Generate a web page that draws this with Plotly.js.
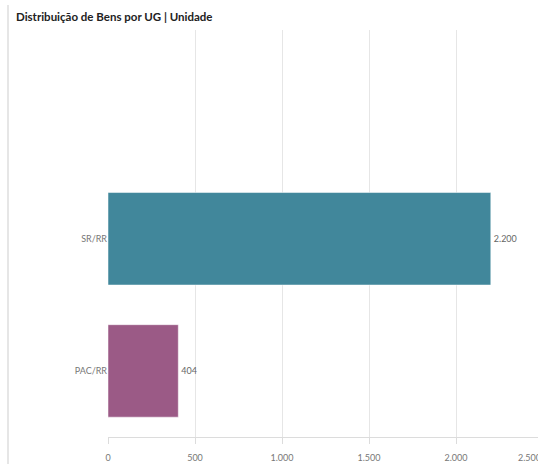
<!DOCTYPE html>
<html><head><meta charset="utf-8">
<script src="https://cdn.plot.ly/plotly-3.0.1.min.js"></script>
<style>html,body{margin:0;padding:0;overflow:hidden;background:#fff;width:538px;height:464px}</style>
</head><body><div id="chart"></div>
<script>
const categories = ["PAC/RR", "SR/RR"];
const values = [404, 2200];
const colors = ["#9b5a86", "#41879b"];
const xTicks = [0, 500, 1000, 1500, 2000, 2500];
const fmt = v => v.toLocaleString("de-DE");

const trace = {
  type: "bar", orientation: "h",
  y: categories, x: values,
  marker: {color: colors, line: {color: "rgba(255,255,255,0.5)", width: 1}},
  text: values.map(fmt),
  textposition: "outside", cliponaxis: false,
  textfont: {family: "Lato, 'Open Sans', sans-serif", size: 9, color: "#666"},
  hoverinfo: "none"
};
const lastTick = xTicks[xTicks.length - 1];
const layout = {
  width: 560, height: 464,
  margin: {l: 108, r: 17, t: 30, b: 27},
  paper_bgcolor: "#fff", plot_bgcolor: "#fff",
  separators: ",.",
  bargap: 0.3,
  showlegend: false,
  font: {family: "Lato, 'Open Sans', sans-serif", size: 9, color: "#777"},
  title: {text: "<b>Distribuição de Bens por UG | Unidade</b>", xref: "container", x: 16/560, xanchor: "left",
    yref: "container", y: 1 - 17/464, yanchor: "middle",
    font: {family: "Lato, sans-serif", size: 11.5, color: "#222"}},
  xaxis: {range: [0, lastTick], tickvals: xTicks,
    ticktext: xTicks.map((v, i) => i === xTicks.length - 1 ? "" : fmt(v)),
    showgrid: true, gridcolor: "#e6e6e6", gridwidth: 1,
    zeroline: false, showline: true, linecolor: "#dcdcdc",
    ticks: "outside", ticklen: 6, tickcolor: "#dcdcdc", ticklabelstandoff: 6,
    tickfont: {size: 9, color: "#777"}, fixedrange: true},
  yaxis: {type: "category", range: [-0.5, 2.58], showgrid: false, zeroline: false,
    showline: false, ticks: "", tickfont: {size: 9, color: "#777"}, ticklabelstandoff: 0, fixedrange: true},
  annotations: [{xref: "x", yref: "paper", x: lastTick, y: 0, xanchor: "right", yanchor: "top",
    xshift: 0, yshift: -13, showarrow: false, text: fmt(lastTick),
    font: {size: 9, color: "#777"}}],
  shapes: [{type: "line", xref: "paper", yref: "paper", x0: -100/435, x1: -100/435, y0: 0 - 27/407, y1: 1 + 25/407,
    line: {color: "#e6e6e6", width: 2}}]
};
Plotly.newPlot("chart", [trace], layout, {displayModeBar: false, staticPlot: true});
</script></body></html>
